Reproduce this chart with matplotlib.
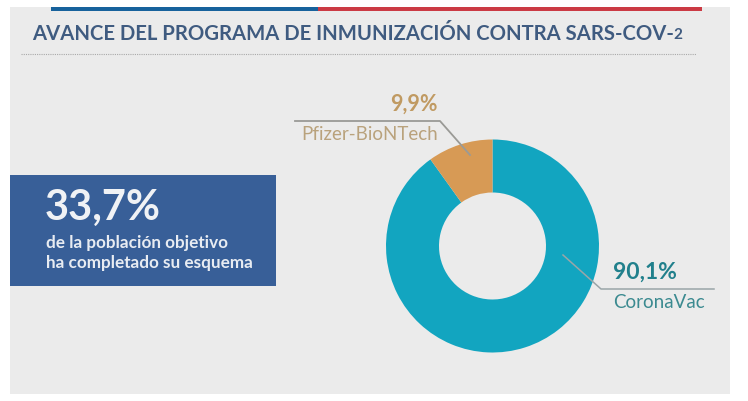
import matplotlib.pyplot as plt

plt.rcParams['font.family'] = ['Lato', 'DejaVu Sans']

# Values from the slide
vaccines = ["CoronaVac", "Pfizer-BioNTech"]
shares = [90.1, 9.9]
colors = ["#12a5c0", "#d79a55"]
H = 401

# Plot
plt.figure(figsize=(7.48, 4.01), dpi=100, facecolor="white")
plt.axes([0, 0, 1, 1])
plt.fill_between([10, 730], H-394, H-7, color="#ebebeb", lw=0)

# Top stripe and title
plt.fill_between([51, 318], H-11, H-7, color="#17629c", lw=0)
plt.fill_between([318, 702], H-11, H-7, color="#cb3a44", lw=0)
plt.text(32, H-34, "AVANCE DEL PROGRAMA DE INMUNIZACIÓN CONTRA SARS-COV-", fontsize=14.6,
	color="#3f5b80", fontweight="bold", va="center")
plt.text(673, H-35, "2", fontsize=11, color="#3f5b80", fontweight="bold", va="center")
plt.plot([21, 696], [H-54, H-54], color="#a9a9a9", lw=0.8, ls=(0, (1, 1)))

# Blue box
plt.fill_between([10, 276], H-286, H-175, color="#385f98", lw=0)
plt.text(45, H-208, "33,7%", fontsize=30, color="#f0f2f5", fontweight="bold", va="center")
plt.text(46, H-243, "de la población objetivo", fontsize=12.3, color="#e8ecf2", fontweight="bold", va="center")
plt.text(46, H-263, "ha completado su esquema", fontsize=12.3, color="#e8ecf2", fontweight="bold", va="center")

# Donut
plt.pie(shares, colors=colors, startangle=90, counterclock=False, center=(492.5, H-246),
	radius=106.5, wedgeprops={"width": 53, "linewidth": 0}, frame=True)

# Callouts
plt.plot([295, 440, 470], [H-121, H-121, H-155], color="#9a9a96", lw=1.3)
plt.text(438, H-104, "9,9%", fontsize=15.5, color="#c09a62", fontweight="bold", ha="right", va="center")
plt.text(438, H-134, "Pfizer-BioNTech", fontsize=13.5, color="#b9a27c", ha="right", va="center")
plt.plot([563, 601, 714], [H-255, H-289, H-289], color="#9aa5a8", lw=1.1)
plt.text(613, H-272, "90,1%", fontsize=16.5, color="#21808c", fontweight="bold", va="center")
plt.text(613, H-303, "CoronaVac", fontsize=13.5, color="#3b8a90", va="center")

plt.xlim(0, 748)
plt.ylim(0, H)
plt.axis("off")
plt.savefig("out.png", dpi=100)
